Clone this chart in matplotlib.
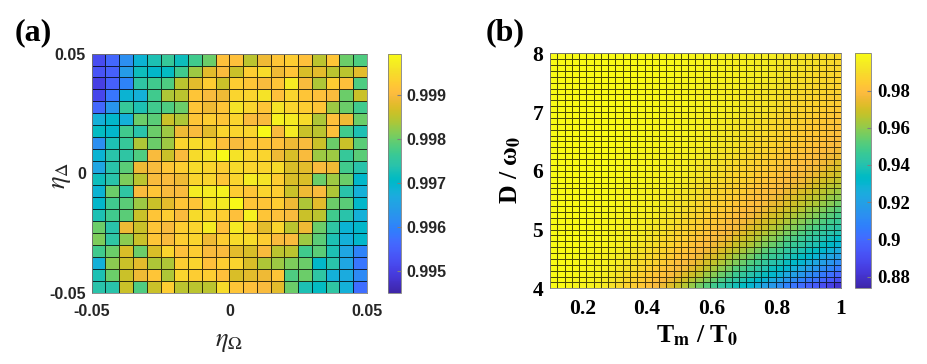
import numpy as np
import matplotlib
matplotlib.use('Agg')
import matplotlib.pyplot as plt
from matplotlib.colors import LinearSegmentedColormap

# MATLAB parula colormap (64 entries)
parula_rgb = [
    [0.2422, 0.1504, 0.6603], [0.2504, 0.1650, 0.7076], [0.2578, 0.1818, 0.7511], [0.2647, 0.1978, 0.7952],
    [0.2706, 0.2147, 0.8364], [0.2751, 0.2342, 0.8710], [0.2783, 0.2559, 0.8991], [0.2803, 0.2782, 0.9221],
    [0.2813, 0.3006, 0.9414], [0.2810, 0.3228, 0.9579], [0.2795, 0.3447, 0.9717], [0.2760, 0.3667, 0.9829],
    [0.2699, 0.3892, 0.9906], [0.2602, 0.4123, 0.9952], [0.2440, 0.4358, 0.9988], [0.2206, 0.4603, 0.9973],
    [0.1963, 0.4847, 0.9892], [0.1834, 0.5074, 0.9798], [0.1786, 0.5289, 0.9682], [0.1764, 0.5499, 0.9520],
    [0.1687, 0.5703, 0.9359], [0.1540, 0.5902, 0.9218], [0.1460, 0.6091, 0.9079], [0.1380, 0.6276, 0.8973],
    [0.1248, 0.6459, 0.8883], [0.1113, 0.6635, 0.8763], [0.0952, 0.6798, 0.8598], [0.0689, 0.6948, 0.8394],
    [0.0297, 0.7082, 0.8163], [0.0036, 0.7203, 0.7917], [0.0067, 0.7312, 0.7660], [0.0433, 0.7411, 0.7394],
    [0.0964, 0.7500, 0.7120], [0.1408, 0.7584, 0.6842], [0.1717, 0.7670, 0.6554], [0.1938, 0.7758, 0.6251],
    [0.2161, 0.7843, 0.5923], [0.2470, 0.7918, 0.5567], [0.2906, 0.7973, 0.5188], [0.3406, 0.8008, 0.4789],
    [0.3909, 0.8029, 0.4354], [0.4456, 0.8024, 0.3909], [0.5044, 0.7993, 0.3480], [0.5616, 0.7942, 0.3045],
    [0.6174, 0.7876, 0.2612], [0.6720, 0.7793, 0.2227], [0.7242, 0.7698, 0.1910], [0.7738, 0.7598, 0.1646],
    [0.8203, 0.7498, 0.1535], [0.8634, 0.7406, 0.1596], [0.9035, 0.7330, 0.1774], [0.9393, 0.7288, 0.2100],
    [0.9728, 0.7298, 0.2394], [0.9956, 0.7434, 0.2371], [0.9970, 0.7659, 0.2199], [0.9952, 0.7893, 0.2028],
    [0.9892, 0.8136, 0.1885], [0.9786, 0.8386, 0.1766], [0.9676, 0.8639, 0.1643], [0.9610, 0.8890, 0.1537],
    [0.9597, 0.9135, 0.1423], [0.9628, 0.9373, 0.1265], [0.9691, 0.9606, 0.1064], [0.9769, 0.9839, 0.0805],
]
parula = LinearSegmentedColormap.from_list('parula', parula_rgb, N=256)

# (a) fidelity x 1e4, rows from top (eta_Delta = 0.05) down to bottom, columns eta_Omega -0.05 -> 0.05
eta_edges = np.linspace(-0.05, 0.05, 21)
fid_a_rows = [
    [9952, 9956, 9962, 9969, 9973, 9976, 9972, 9977, 9980, 9991, 9991, 9985, 9989, 9992, 9993, 9991, 9985, 9992, 9980, 9978],
    [9953, 9955, 9964, 9972, 9970, 9971, 9977, 9983, 9988, 9990, 9986, 9993, 9995, 9989, 9992, 9987, 9988, 9985, 9985, 9988],
    [9950, 9955, 9960, 9975, 9977, 9978, 9985, 9988, 9993, 9986, 9993, 9992, 9990, 9992, 9997, 9990, 9984, 9993, 9991, 9978],
    [9951, 9958, 9969, 9968, 9977, 9984, 9985, 9992, 9990, 9989, 9994, 9994, 9996, 9991, 9994, 9992, 9991, 9990, 9980, 9986],
    [9956, 9963, 9976, 9973, 9977, 9978, 9980, 9992, 9989, 9992, 9996, 9994, 9992, 9996, 9994, 9993, 9992, 9983, 9980, 9977],
    [9968, 9970, 9968, 9980, 9979, 9986, 9984, 9992, 9993, 9992, 9994, 9990, 9990, 9998, 9997, 9995, 9984, 9991, 9989, 9980],
    [9971, 9970, 9977, 9974, 9980, 9983, 9989, 9990, 9988, 9994, 9994, 9994, 9999, 9990, 9997, 9986, 9985, 9991, 9977, 9973],
    [9962, 9973, 9976, 9984, 9980, 9983, 9994, 9995, 9994, 9991, 9990, 9992, 9992, 9991, 9989, 9990, 9986, 9980, 9986, 9979],
    [9969, 9974, 9975, 9978, 9990, 9986, 9990, 9995, 9996, 9999, 9996, 9994, 9994, 9989, 9987, 9990, 9983, 9983, 9976, 9979],
    [9966, 9974, 9979, 9989, 9990, 9992, 9993, 9995, 9994, 9993, 9995, 9994, 9994, 9995, 9987, 9988, 9990, 9989, 9977, 9974],
    [9972, 9974, 9981, 9985, 9990, 9990, 9989, 9994, 9994, 9992, 9994, 9997, 9996, 9993, 9987, 9987, 9980, 9983, 9980, 9970],
    [9969, 9980, 9975, 9990, 9992, 9990, 9990, 9997, 9997, 9998, 9993, 9992, 9994, 9993, 9986, 9989, 9990, 9984, 9974, 9968],
    [9970, 9977, 9979, 9983, 9986, 9988, 9992, 9992, 9996, 9997, 9999, 9992, 9992, 9993, 9989, 9984, 9988, 9980, 9979, 9970],
    [9973, 9977, 9979, 9986, 9992, 9993, 9990, 9995, 9994, 9993, 9991, 9998, 9992, 9991, 9990, 9986, 9985, 9977, 9974, 9968],
    [9980, 9974, 9989, 9986, 9992, 9990, 9993, 9994, 9997, 9991, 9997, 9993, 9988, 9994, 9985, 9989, 9980, 9975, 9969, 9970],
    [9981, 9975, 9982, 9986, 9992, 9990, 9993, 9994, 9989, 9993, 9995, 9995, 9993, 9990, 9990, 9983, 9979, 9973, 9968, 9970],
    [9977, 9980, 9987, 9980, 9987, 9994, 9991, 9993, 9990, 9990, 9988, 9987, 9990, 9985, 9985, 9977, 9979, 9973, 9966, 9960],
    [9968, 9982, 9986, 9988, 9984, 9984, 9993, 9994, 9991, 9993, 9994, 9987, 9984, 9983, 9981, 9980, 9970, 9974, 9966, 9958],
    [9973, 9980, 9986, 9989, 9992, 9984, 9994, 9993, 9993, 9991, 9987, 9988, 9989, 9992, 9978, 9980, 9975, 9968, 9967, 9961],
    [9974, 9974, 9986, 9978, 9986, 9993, 9985, 9985, 9985, 9995, 9992, 9991, 9990, 9988, 9980, 9973, 9971, 9975, 9968, 9957],
]
clim_a = (0.9945, 0.99995)
cticks_a = [0.995, 0.996, 0.997, 0.998, 0.999]

# (b) fidelity x 1e3, rows from D = 4 (bottom) up to D = 8, columns Tm/T0 0.1 -> 1
tm_edges = np.linspace(0.1, 1.0, 41)
d_edges = np.linspace(4, 8, 41)
fid_b_rows = [
    [1000, 1000, 999, 998, 997, 997, 996, 994, 991, 989, 987, 985, 983, 981, 978, 975, 972, 968, 965, 961, 956, 952, 948, 944, 941, 937, 934, 930, 926, 921, 917, 913, 908, 904, 901, 897, 895, 890, 886, 881],
    [1000, 1000, 999, 998, 998, 997, 996, 995, 993, 991, 989, 987, 985, 983, 981, 978, 975, 972, 969, 965, 962, 958, 954, 950, 946, 943, 940, 936, 932, 929, 925, 921, 916, 912, 908, 905, 903, 899, 895, 890],
    [1000, 1000, 999, 999, 998, 997, 997, 996, 994, 992, 990, 988, 986, 984, 982, 981, 978, 975, 972, 969, 966, 962, 959, 955, 952, 947, 945, 941, 938, 935, 931, 928, 924, 920, 916, 912, 909, 905, 902, 898],
    [1000, 1000, 1000, 999, 998, 998, 997, 996, 995, 993, 992, 990, 988, 986, 984, 982, 981, 978, 976, 973, 970, 967, 963, 960, 957, 952, 950, 946, 943, 940, 936, 934, 930, 927, 923, 919, 916, 912, 909, 905],
    [1000, 1000, 1000, 999, 999, 998, 997, 997, 996, 995, 993, 991, 989, 988, 986, 984, 982, 980, 978, 976, 973, 970, 967, 964, 961, 958, 955, 951, 948, 945, 941, 939, 935, 932, 930, 926, 923, 919, 915, 911],
    [1000, 1000, 1000, 999, 999, 998, 998, 997, 996, 995, 994, 992, 991, 989, 987, 986, 984, 982, 981, 979, 976, 973, 971, 968, 965, 962, 959, 956, 952, 949, 946, 944, 940, 937, 934, 931, 929, 925, 922, 919],
    [1000, 1000, 1000, 1000, 999, 998, 998, 997, 997, 996, 995, 993, 992, 990, 988, 987, 985, 983, 982, 981, 978, 976, 974, 971, 968, 966, 963, 960, 957, 953, 950, 948, 944, 942, 939, 936, 934, 931, 928, 925],
    [1000, 1000, 1000, 1000, 999, 999, 998, 998, 997, 996, 996, 995, 993, 991, 990, 988, 987, 985, 983, 982, 980, 978, 976, 974, 972, 968, 966, 964, 961, 958, 955, 952, 948, 946, 944, 940, 939, 935, 933, 930],
    [1000, 1000, 1000, 1000, 999, 999, 998, 998, 997, 997, 996, 995, 994, 992, 991, 989, 988, 986, 985, 983, 982, 980, 978, 976, 975, 971, 969, 967, 964, 961, 959, 956, 952, 950, 947, 944, 943, 940, 937, 934],
    [1000, 1000, 1000, 1000, 999, 999, 999, 998, 997, 997, 996, 996, 995, 993, 992, 991, 989, 987, 986, 985, 983, 982, 980, 978, 977, 974, 972, 969, 967, 965, 962, 960, 957, 954, 951, 948, 946, 944, 941, 939],
    [1000, 1000, 1000, 1000, 1000, 999, 999, 998, 998, 997, 997, 996, 996, 994, 993, 992, 990, 988, 987, 986, 985, 983, 982, 980, 979, 977, 975, 972, 970, 968, 965, 963, 960, 958, 955, 952, 950, 947, 945, 942],
    [1000, 1000, 1000, 1000, 1000, 999, 999, 998, 998, 998, 997, 997, 996, 995, 994, 992, 991, 990, 988, 987, 986, 984, 983, 982, 980, 978, 977, 975, 972, 970, 968, 966, 964, 961, 959, 956, 954, 951, 948, 946],
    [1000, 1000, 1000, 1000, 1000, 999, 999, 999, 998, 998, 997, 997, 996, 996, 995, 993, 992, 991, 989, 988, 987, 986, 984, 983, 982, 980, 979, 977, 975, 973, 970, 969, 966, 964, 962, 960, 958, 954, 952, 949],
    [1000, 1000, 1000, 1000, 1000, 1000, 999, 999, 998, 998, 998, 997, 997, 996, 995, 994, 993, 992, 990, 989, 988, 987, 985, 984, 983, 981, 980, 979, 977, 975, 973, 971, 969, 967, 965, 962, 961, 958, 955, 952],
    [1000, 1000, 1000, 1000, 1000, 1000, 999, 999, 999, 998, 998, 997, 997, 996, 996, 995, 994, 992, 991, 990, 988, 987, 986, 985, 984, 982, 982, 980, 979, 977, 975, 974, 971, 969, 967, 965, 964, 961, 959, 956],
    [1000, 1000, 1000, 1000, 1000, 1000, 999, 999, 999, 998, 998, 998, 997, 997, 996, 995, 994, 993, 992, 991, 990, 988, 987, 986, 985, 984, 982, 981, 980, 979, 977, 975, 973, 971, 969, 967, 966, 964, 961, 960],
    [1000, 1000, 1000, 1000, 1000, 1000, 1000, 999, 999, 998, 998, 998, 997, 997, 996, 996, 995, 994, 993, 992, 991, 989, 988, 987, 986, 985, 984, 982, 981, 980, 979, 978, 975, 974, 971, 970, 968, 966, 964, 962],
    [1000, 1000, 1000, 1000, 1000, 1000, 1000, 999, 999, 999, 998, 998, 998, 997, 997, 996, 996, 995, 994, 992, 991, 990, 989, 988, 987, 986, 985, 983, 982, 981, 980, 979, 977, 975, 974, 972, 970, 968, 966, 965],
    [1000, 1000, 1000, 1000, 1000, 1000, 1000, 999, 999, 999, 998, 998, 998, 997, 997, 996, 996, 995, 994, 993, 992, 991, 990, 989, 988, 987, 986, 985, 983, 982, 981, 980, 979, 977, 976, 974, 972, 970, 969, 967],
    [1000, 1000, 1000, 1000, 1000, 1000, 1000, 1000, 999, 999, 999, 998, 998, 997, 997, 997, 996, 996, 995, 994, 993, 992, 991, 990, 988, 987, 987, 986, 984, 983, 982, 981, 980, 979, 977, 976, 975, 972, 971, 969],
    [1000, 1000, 1000, 1000, 1000, 1000, 1000, 1000, 999, 999, 999, 998, 998, 998, 997, 997, 996, 996, 995, 995, 993, 992, 991, 990, 989, 988, 987, 986, 985, 984, 983, 982, 981, 980, 979, 977, 976, 975, 972, 971],
    [1000, 1000, 1000, 1000, 1000, 1000, 1000, 1000, 999, 999, 999, 998, 998, 998, 998, 997, 997, 996, 996, 995, 994, 993, 992, 991, 990, 989, 988, 987, 986, 985, 984, 983, 982, 981, 980, 979, 978, 976, 975, 972],
    [1000, 1000, 1000, 1000, 1000, 1000, 1000, 1000, 1000, 999, 999, 999, 998, 998, 998, 997, 997, 996, 996, 996, 995, 994, 993, 992, 991, 990, 989, 988, 987, 986, 985, 984, 983, 982, 981, 980, 979, 978, 976, 975],
    [1000, 1000, 1000, 1000, 1000, 1000, 1000, 1000, 1000, 999, 999, 999, 998, 998, 998, 997, 997, 997, 996, 996, 995, 994, 993, 992, 992, 991, 990, 988, 988, 987, 986, 985, 984, 983, 982, 981, 980, 979, 978, 976],
    [1000, 1000, 1000, 1000, 1000, 1000, 1000, 1000, 1000, 999, 999, 999, 998, 998, 998, 998, 997, 997, 997, 996, 996, 995, 994, 993, 992, 991, 990, 989, 988, 988, 987, 986, 985, 984, 983, 982, 981, 980, 979, 978],
    [1000, 1000, 1000, 1000, 1000, 1000, 1000, 1000, 1000, 1000, 999, 999, 999, 998, 998, 998, 997, 997, 997, 996, 996, 995, 995, 993, 993, 992, 991, 990, 989, 988, 987, 987, 986, 985, 984, 982, 982, 981, 980, 979],
    [1000, 1000, 1000, 1000, 1000, 1000, 1000, 1000, 1000, 1000, 999, 999, 999, 998, 998, 998, 998, 997, 997, 997, 996, 996, 995, 994, 993, 992, 992, 991, 990, 989, 988, 987, 986, 985, 984, 983, 983, 982, 981, 980],
    [1000, 1000, 1000, 1000, 1000, 1000, 1000, 1000, 1000, 1000, 999, 999, 999, 999, 998, 998, 998, 997, 997, 997, 996, 996, 995, 995, 994, 993, 992, 991, 990, 990, 988, 988, 987, 986, 985, 984, 984, 982, 982, 981],
    [1000, 1000, 1000, 1000, 1000, 1000, 1000, 1000, 1000, 1000, 1000, 999, 999, 999, 998, 998, 998, 998, 997, 997, 997, 996, 996, 995, 995, 993, 993, 992, 991, 990, 989, 988, 987, 987, 986, 985, 984, 983, 982, 982],
    [1000, 1000, 1000, 1000, 1000, 1000, 1000, 1000, 1000, 1000, 1000, 999, 999, 999, 999, 998, 998, 998, 997, 997, 997, 996, 996, 996, 995, 994, 993, 992, 992, 991, 990, 989, 988, 987, 987, 986, 985, 984, 983, 982],
    [1000, 1000, 1000, 1000, 1000, 1000, 1000, 1000, 1000, 1000, 1000, 999, 999, 999, 999, 998, 998, 998, 998, 997, 997, 997, 996, 996, 995, 995, 994, 993, 992, 992, 991, 990, 989, 988, 987, 987, 986, 985, 984, 983],
    [1000, 1000, 1000, 1000, 1000, 1000, 1000, 1000, 1000, 1000, 1000, 1000, 999, 999, 999, 998, 998, 998, 998, 997, 997, 997, 996, 996, 996, 995, 994, 993, 993, 992, 991, 990, 989, 988, 988, 987, 987, 986, 985, 984],
    [1000, 1000, 1000, 1000, 1000, 1000, 1000, 1000, 1000, 1000, 1000, 1000, 999, 999, 999, 999, 998, 998, 998, 998, 997, 997, 997, 996, 996, 995, 995, 994, 993, 992, 992, 991, 990, 989, 988, 988, 987, 986, 985, 985],
    [1000, 1000, 1000, 1000, 1000, 1000, 1000, 1000, 1000, 1000, 1000, 1000, 999, 999, 999, 999, 998, 998, 998, 998, 997, 997, 997, 996, 996, 996, 995, 994, 994, 993, 992, 992, 991, 990, 989, 988, 988, 987, 986, 986],
    [1000, 1000, 1000, 1000, 1000, 1000, 1000, 1000, 1000, 1000, 1000, 1000, 1000, 999, 999, 999, 998, 998, 998, 998, 997, 997, 997, 996, 996, 996, 995, 995, 994, 993, 993, 992, 991, 991, 990, 989, 988, 988, 987, 986],
    [1000, 1000, 1000, 1000, 1000, 1000, 1000, 1000, 1000, 1000, 1000, 1000, 1000, 999, 999, 999, 999, 998, 998, 998, 998, 997, 997, 997, 996, 996, 996, 995, 995, 994, 993, 993, 992, 991, 990, 990, 989, 988, 987, 987],
    [1000, 1000, 1000, 1000, 1000, 1000, 1000, 1000, 1000, 1000, 1000, 1000, 1000, 999, 999, 999, 999, 998, 998, 998, 998, 997, 997, 997, 997, 996, 996, 995, 995, 994, 993, 993, 992, 992, 991, 990, 989, 988, 988, 987],
    [1000, 1000, 1000, 1000, 1000, 1000, 1000, 1000, 1000, 1000, 1000, 1000, 1000, 1000, 999, 999, 999, 999, 998, 998, 998, 998, 997, 997, 997, 996, 996, 996, 995, 995, 994, 993, 993, 992, 991, 991, 990, 989, 988, 988],
    [1000, 1000, 1000, 1000, 1000, 1000, 1000, 1000, 1000, 1000, 1000, 1000, 1000, 1000, 999, 999, 999, 999, 998, 998, 998, 998, 997, 997, 997, 996, 996, 996, 995, 995, 995, 994, 993, 992, 992, 991, 991, 990, 989, 988],
    [1000, 1000, 1000, 1000, 1000, 1000, 1000, 1000, 1000, 1000, 1000, 1000, 1000, 1000, 999, 999, 999, 999, 999, 998, 998, 998, 998, 997, 997, 997, 996, 996, 996, 995, 995, 994, 993, 993, 992, 992, 991, 990, 990, 989],
]
clim_b = (0.8737, 1.0)
cticks_b = [0.88, 0.90, 0.92, 0.94, 0.96, 0.98]
cticklabels_b = ['0.88', '0.9', '0.92', '0.94', '0.96', '0.98']

plt.rcParams['mathtext.fontset'] = 'stix'

sans_b = dict(family='Liberation Sans', weight='bold')
serif_b = dict(family='Liberation Serif', weight='bold')
gray_txt = '#262626'

fig = plt.figure(figsize=(9.27, 3.64), dpi=100, facecolor='white')

# ---------- panel (a)
ax1 = fig.add_axes([0.0989, 0.194, 0.297, 0.659])
cax1 = fig.add_axes([0.419, 0.196, 0.0137, 0.657])
fid_a = np.flipud(np.array(fid_a_rows) / 1e4)
m1 = ax1.pcolormesh(eta_edges, eta_edges, fid_a, cmap=parula,
                    vmin=clim_a[0], vmax=clim_a[1],
                    edgecolors=(0, 0, 0, 0.75), linewidth=0.5)
ax1.set_xlim(-0.05, 0.05)
ax1.set_ylim(-0.05, 0.05)
ax1.set_xticks([-0.05, 0, 0.05])
ax1.set_xticklabels(['-0.05', '0', '0.05'])
ax1.set_yticks([-0.05, 0, 0.05])
ax1.set_yticklabels(['-0.05', '0', '0.05'])
ax1.tick_params(axis='x', length=0, pad=8)
ax1.tick_params(axis='y', length=0, pad=4)
for lab in ax1.get_xticklabels() + ax1.get_yticklabels():
    lab.set_fontproperties(sans_b)
    lab.set_fontsize(11.5)
    lab.set_color(gray_txt)
for sp in ax1.spines.values():
    sp.set_color('#7f7f7f')
    sp.set_linewidth(0.6)

cb1 = fig.colorbar(m1, cax=cax1)
cb1.set_ticks(cticks_a)
cb1.set_ticklabels(['0.995', '0.996', '0.997', '0.998', '0.999'])
cb1.outline.set_edgecolor('#7f7f7f')
cb1.outline.set_linewidth(0.6)
cax1.tick_params(length=3, direction='in', color='#7f7f7f', pad=4)
for lab in cax1.get_yticklabels():
    lab.set_fontproperties(sans_b)
    lab.set_fontsize(11.5)
    lab.set_color(gray_txt)

fig.text(0.0647, 0.519, r'$\eta_\Delta$', rotation=90, ha='center', va='center',
         fontsize=19, color=gray_txt)
fig.text(0.247, 0.062, r'$\eta_\Omega$', ha='center', va='center',
         fontsize=19, color=gray_txt)
fig.text(0.016, 0.909, '(a)', ha='left', va='center', fontsize=23, **serif_b)

# ---------- panel (b)
ax2 = fig.add_axes([0.5933, 0.208, 0.3139, 0.6456])
cax2 = fig.add_axes([0.9223, 0.208, 0.0173, 0.6456])
fid_b = np.array(fid_b_rows) / 1e3
m2 = ax2.pcolormesh(tm_edges, d_edges, fid_b, cmap=parula,
                    vmin=clim_b[0], vmax=clim_b[1],
                    edgecolors=(0, 0, 0, 0.7), linewidth=0.5)
ax2.set_xlim(0.1, 1.0)
ax2.set_ylim(4, 8)
ax2.set_xticks([0.2, 0.4, 0.6, 0.8, 1.0])
ax2.set_xticklabels(['0.2', '0.4', '0.6', '0.8', '1'])
ax2.set_yticks([4, 5, 6, 7, 8])
ax2.set_yticklabels(['4', '5', '6', '7', '8'])
ax2.tick_params(axis='x', length=0, pad=8)
ax2.tick_params(axis='y', length=0, pad=5)
for lab in ax2.get_xticklabels() + ax2.get_yticklabels():
    lab.set_fontproperties(serif_b)
    lab.set_fontsize(15.5)
for sp in ax2.spines.values():
    sp.set_color('#7f7f7f')
    sp.set_linewidth(0.6)

cb2 = fig.colorbar(m2, cax=cax2)
cb2.set_ticks(cticks_b)
cb2.set_ticklabels(cticklabels_b)
cb2.outline.set_edgecolor('#7f7f7f')
cb2.outline.set_linewidth(0.6)
cax2.tick_params(length=3, direction='in', color='#7f7f7f', pad=4.5)
for lab in cax2.get_yticklabels():
    lab.set_fontproperties(serif_b)
    lab.set_fontsize(13.5)

fig.text(0.551, 0.533, r'D / ω$_{\mathbf{0}}$', rotation=90, ha='center', va='center',
         fontsize=18.5, **serif_b)
fig.text(0.752, 0.058, r'T$_{\mathbf{m}}$ / T$_{\mathbf{0}}$', ha='center', va='baseline',
         fontsize=18.5, **serif_b)
fig.text(0.524, 0.909, '(b)', ha='left', va='center', fontsize=23, **serif_b)

fig.savefig('out.png', dpi=100, facecolor='white')
